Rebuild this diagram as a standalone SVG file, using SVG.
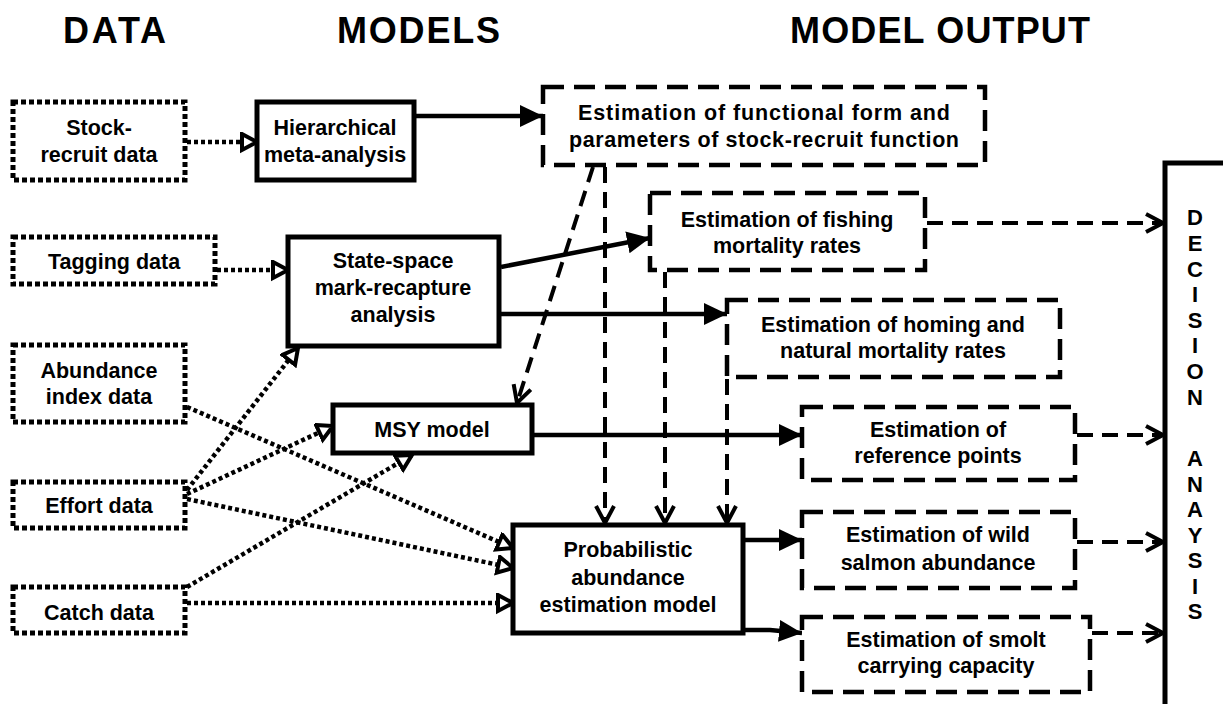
<svg xmlns="http://www.w3.org/2000/svg" width="1223" height="704" viewBox="0 0 1223 704">
<style>
.h{font-family:"Liberation Sans",Arial,sans-serif;font-weight:bold;font-size:36px;fill:#000}
.t{font-family:"Liberation Sans",Arial,sans-serif;font-weight:bold;font-size:21.5px;fill:#000;text-anchor:middle}
.da{font-family:"Liberation Sans",Arial,sans-serif;font-weight:bold;font-size:22px;fill:#000;text-anchor:middle}
.dot{fill:#fff;stroke:#000;stroke-width:5;stroke-dasharray:5 3}
.sol{fill:#fff;stroke:#000;stroke-width:5}
.das{fill:#fff;stroke:#000;stroke-width:4.5;stroke-dasharray:21 10}
.cs{fill:none;stroke:#000;stroke-width:4.5}
.cd{fill:none;stroke:#000;stroke-width:4;stroke-dasharray:16 9}
.cdt{fill:none;stroke:#000;stroke-width:4.5;stroke-dasharray:4 3}
</style>
<defs>
<marker id="af" markerUnits="userSpaceOnUse" markerWidth="26" markerHeight="26" refX="23" refY="12" orient="auto">
<path d="M0,1 L23,12 L0,23 Z" fill="#000"/>
</marker>
<marker id="av" markerUnits="userSpaceOnUse" markerWidth="24" markerHeight="24" refX="19" refY="11" orient="auto">
<path d="M2,2 L19,11 L2,20" fill="none" stroke="#000" stroke-width="4"/>
</marker>
<marker id="at" markerUnits="userSpaceOnUse" markerWidth="22" markerHeight="22" refX="17" refY="10" orient="auto">
<path d="M2,2 L17,10 L2,18 Z" fill="#fff" stroke="#000" stroke-width="4"/>
</marker>
</defs>
<rect width="1223" height="704" fill="#fff"/>
<g id="headers">
<text class="h" x="63" y="43" textLength="103">DATA</text>
<text class="h" x="337" y="43" textLength="163">MODELS</text>
<text class="h" x="790" y="43" textLength="300">MODEL OUTPUT</text>
</g>
<g id="connectors">
<line class="cdt" x1="187" y1="142" x2="257" y2="142" marker-end="url(#at)"/>
<line class="cdt" x1="217" y1="270" x2="288" y2="270" marker-end="url(#at)"/>
<line class="cdt" x1="187" y1="407" x2="513" y2="548" marker-end="url(#at)"/>
<line class="cdt" x1="187" y1="490" x2="298" y2="348" marker-end="url(#at)"/>
<line class="cdt" x1="187" y1="494" x2="333" y2="426" marker-end="url(#at)"/>
<line class="cdt" x1="187" y1="499" x2="513" y2="568" marker-end="url(#at)"/>
<line class="cdt" x1="187" y1="587" x2="412" y2="455" marker-end="url(#at)"/>
<line class="cdt" x1="187" y1="603" x2="513" y2="603" marker-end="url(#at)"/>
<line class="cs" x1="416" y1="116" x2="543" y2="116" marker-end="url(#af)"/>
<line class="cs" x1="501" y1="267" x2="650" y2="238" marker-end="url(#af)"/>
<line class="cs" x1="501" y1="314" x2="727" y2="314" marker-end="url(#af)"/>
<line class="cs" x1="534" y1="435" x2="802" y2="435" marker-end="url(#af)"/>
<line class="cs" x1="745" y1="540" x2="802" y2="540" marker-end="url(#af)"/>
<polyline class="cs" points="745,630 770,630 802,633" marker-end="url(#af)"/>
<line class="cd" x1="593" y1="167" x2="517" y2="403" marker-end="url(#av)"/>
<line class="cd" x1="605" y1="167" x2="605" y2="523" marker-end="url(#av)"/>
<line class="cd" x1="665" y1="272" x2="665" y2="523" marker-end="url(#av)"/>
<line class="cd" x1="727" y1="379" x2="727" y2="523" marker-end="url(#av)"/>
<line class="cd" x1="927" y1="223" x2="1163" y2="223" marker-end="url(#av)"/>
<line class="cd" x1="1077" y1="435" x2="1163" y2="435" marker-end="url(#av)"/>
<line class="cd" x1="1077" y1="542" x2="1163" y2="542" marker-end="url(#av)"/>
<line class="cd" x1="1092" y1="633" x2="1163" y2="633" marker-end="url(#av)"/>
</g>
<g id="stock-recruit-data">
<rect class="dot" x="13" y="102" width="172" height="78"/>
<text class="t" x="99" y="135">Stock-</text>
<text class="t" x="99" y="162">recruit data</text>
</g>
<g id="tagging-data">
<rect class="dot" x="13" y="237" width="202" height="47"/>
<text class="t" x="114" y="269">Tagging data</text>
</g>
<g id="abundance-index-data">
<rect class="dot" x="13" y="345" width="172" height="77"/>
<text class="t" x="99" y="378">Abundance</text>
<text class="t" x="99" y="404">index data</text>
</g>
<g id="effort-data">
<rect class="dot" x="13" y="482" width="172" height="46"/>
<text class="t" x="99" y="513">Effort data</text>
</g>
<g id="catch-data">
<rect class="dot" x="13" y="587" width="172" height="46"/>
<text class="t" x="99" y="620">Catch data</text>
</g>
<g id="hierarchical">
<rect class="sol" x="257" y="102" width="157" height="78"/>
<text class="t" x="335" y="135">Hierarchical</text>
<text class="t" x="335" y="162">meta-analysis</text>
</g>
<g id="state-space">
<rect class="sol" x="288" y="237" width="211" height="109"/>
<text class="t" x="393" y="268">State-space</text>
<text class="t" x="393" y="295">mark-recapture</text>
<text class="t" x="393" y="322">analysis</text>
</g>
<g id="msy-model">
<rect class="sol" x="333" y="405" width="199" height="48"/>
<text class="t" x="432" y="437">MSY model</text>
</g>
<g id="probabilistic">
<rect class="sol" x="513" y="525" width="230" height="108"/>
<text class="t" x="628" y="557">Probabilistic</text>
<text class="t" x="628" y="585">abundance</text>
<text class="t" x="628" y="612">estimation model</text>
</g>
<g id="out-functional">
<rect class="das" x="543" y="87" width="442" height="78"/>
<text class="t" x="764" y="120" textLength="372">Estimation of functional form and</text>
<text class="t" x="764" y="147" textLength="390">parameters of stock-recruit function</text>
</g>
<g id="out-fishing">
<rect class="das" x="650" y="193" width="275" height="77"/>
<text class="t" x="787" y="227">Estimation of fishing</text>
<text class="t" x="787" y="253">mortality rates</text>
</g>
<g id="out-homing">
<rect class="das" x="727" y="300" width="333" height="77"/>
<text class="t" x="893" y="332">Estimation of homing and</text>
<text class="t" x="893" y="358">natural mortality rates</text>
</g>
<g id="out-reference">
<rect class="das" x="802" y="407" width="273" height="73"/>
<text class="t" x="938" y="437">Estimation of</text>
<text class="t" x="938" y="463">reference points</text>
</g>
<g id="out-wild">
<rect class="das" x="802" y="512" width="273" height="76"/>
<text class="t" x="938" y="542">Estimation of wild</text>
<text class="t" x="938" y="570">salmon abundance</text>
</g>
<g id="out-smolt">
<rect class="das" x="802" y="617" width="288" height="75"/>
<text class="t" x="946" y="647">Estimation of smolt</text>
<text class="t" x="946" y="673">carrying capacity</text>
</g>
<g id="decision-analysis">
<rect class="sol" x="1165" y="163" width="120" height="600"/>
<text class="da"><tspan x="1195" y="225">D</tspan><tspan x="1195" y="251">E</tspan><tspan x="1195" y="277">C</tspan><tspan x="1195" y="302">I</tspan><tspan x="1195" y="328">S</tspan><tspan x="1195" y="353">I</tspan><tspan x="1195" y="379">O</tspan><tspan x="1195" y="405">N</tspan><tspan x="1195" y="466">A</tspan><tspan x="1195" y="492">N</tspan><tspan x="1195" y="517">A</tspan><tspan x="1195" y="543">Y</tspan><tspan x="1195" y="568">S</tspan><tspan x="1195" y="594">I</tspan><tspan x="1195" y="619">S</tspan></text>
</g>
</svg>
